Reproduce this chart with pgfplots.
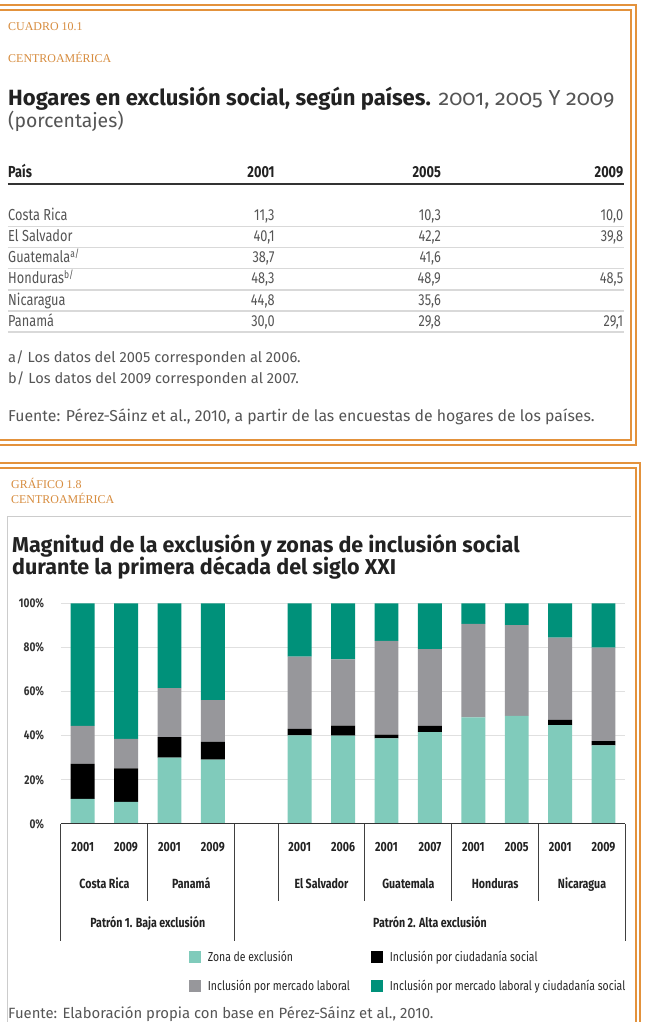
\documentclass[border=0pt]{standalone}
\usepackage{fontspec}
\usepackage{pgfplots}
\usepackage{pgfplotstable}
\pgfplotsset{compat=1.18}
\setmainfont{Fira Sans}
\newfontfamily\cond[FakeStretch=0.8]{Fira Sans}
\newfontfamily\orserif{Liberation Serif}
\newcommand\fs[1]{\fontsize{#1}{#1}\selectfont}

\definecolor{orangeline}{HTML}{E3923C}
\definecolor{orangetext}{HTML}{D78C3E}
\definecolor{excl}{HTML}{80CBBB}
\definecolor{ciud}{HTML}{000000}
\definecolor{merc}{HTML}{97979B}
\definecolor{both}{HTML}{00917A}
\definecolor{txtgray}{HTML}{555555}
\definecolor{ttl}{HTML}{222222}

% Shares of households by zone (percent), one row per country-year bar
\pgfplotstableread{
x  excl ciud merc both
0  11.3 15.9 17.2 55.6
1  10.0 15.1 13.4 61.5
2  30.0  9.3 22.2 38.5
3  29.1  8.1 18.9 43.9
5  40.1  3.0 32.7 24.2
6  40.0  4.5 30.1 25.4
7  38.7  1.8 42.4 17.1
8  41.6  2.8 34.8 20.8
9  48.3  0.0 42.4  9.3
10 48.9  0.0 41.2  9.9
11 44.8  2.3 37.3 15.6
12 35.6  1.9 42.4 20.1
}\bardata

% one body row of the country table: index, name, 2001, 2005, 2009
\newcommand\tabrow[5]{%
  \node[anchor=base west] at (8,{221.5+21.2*#1}) {#2};
  \node[anchor=base east] at (276,{221.5+21.2*#1}) {#3};
  \node[anchor=base east] at (443,{221.5+21.2*#1}) {#4};
  \node[anchor=base east] at (626,{221.5+21.2*#1}) {#5};
}

\begin{document}
\begin{tikzpicture}
% ---------- page, frames and the table block ----------
\begin{scope}[x=0.75pt,y=-0.75pt]
\path[use as bounding box, fill=white] (0,0) rectangle (654,1022);
% double frame of the table block
\draw[orangeline, line width=1.5pt] (-5,5.5) rectangle (639,447);
\draw[orangeline, line width=1.5pt] (-5,10.5) rectangle (634,442);
% double frame of the chart block
\draw[orangeline, line width=1.5pt] (-5,464.5) rectangle (643,1040);
\draw[orangeline, line width=1.5pt] (-5,469.5) rectangle (638.5,1040);

\node[anchor=base west, inner sep=0, font=\orserif\fs{9}, text=orangetext] at (8,31) {CUADRO 10.1};
\node[anchor=base west, inner sep=0, font=\orserif\fs{9}, text=orangetext] at (8,63) {CENTROAMÉRICA};

\node[anchor=base west, inner sep=0, text=ttl] at (8,106)
  {\fs{16.6}\textbf{Hogares en exclusión social, según países.} {\fs{16.3}\color{txtgray}\addfontfeatures{Numbers=OldStyle}2001, 2005 Y 2009}};
\node[anchor=base west, inner sep=0, font=\fs{14.6}, text=txtgray] at (8,128) {(porcentajes)};

% header row
\begin{scope}[every node/.style={inner sep=0, font=\cond\bfseries\fs{12}, text=ttl}]
\node[anchor=base west] at (8,178) {País};
\node[anchor=base east] at (276,178) {2001};
\node[anchor=base east] at (443,178) {2005};
\node[anchor=base east] at (626,178) {2009};
\end{scope}
\draw[black!80, line width=1.2pt] (8,185) -- (627,185);

% body rows
\foreach \i in {0,...,5} {
  \draw[black!15, line width=1pt] (8,{227.5+21.2*\i}) -- (627,{227.5+21.2*\i});
}
\begin{scope}[every node/.style={inner sep=0, font=\cond\fs{12}, text=txtgray}]
\tabrow{0}{Costa Rica}{11,3}{10,3}{10,0}
\tabrow{1}{El Salvador}{40,1}{42,2}{39,8}
\tabrow{2}{Guatemala\textsuperscript{a/}}{38,7}{41,6}{}
\tabrow{3}{Honduras\textsuperscript{b/}}{48,3}{48,9}{48,5}
\tabrow{4}{Nicaragua}{44,8}{35,6}{}
\tabrow{5}{Panamá}{30,0}{29,8}{29,1}
\end{scope}

\begin{scope}[every node/.style={anchor=base west, inner sep=0, font=\fs{11}, text=txtgray}]
\node at (8,364) {a/ Los datos del 2005 corresponden al 2006.};
\node at (8,385) {b/ Los datos del 2009 corresponden al 2007.};
\node[font=\fs{11.9}] at (8,423) {Fuente: Pérez-Sáinz et al., 2010, a partir de las encuestas de hogares de los países.};
\end{scope}

% ---------- chart block headings ----------
\node[anchor=base west, inner sep=0, font=\orserif\fs{9}, text=orangetext] at (11,490) {GRÁFICO 1.8};
\node[anchor=base west, inner sep=0, font=\orserif\fs{9}, text=orangetext] at (11,506) {CENTROAMÉRICA};
\draw[black!20, line width=0.75pt] (8,1040) -- (8,519) -- (634,519);
\node[anchor=base west, inner sep=0, font=\bfseries\fs{16.2}, text=ttl] at (12,555) {Magnitud de la exclusión y zonas de inclusión social};
\node[anchor=base west, inner sep=0, font=\bfseries\fs{16.2}, text=ttl] at (12,577) {durante la primera década del siglo XXI};
\end{scope}

% ---------- stacked bars ----------
\begin{axis}[
  at={(45.9pt,-620.4pt)}, anchor=south west,
  scale only axis, width=424.95pt, height=166.1pt,
  xmin=-0.5, xmax=12.5, ymin=0, ymax=100,
  ybar stacked, bar width=18pt,
  axis line style={draw=none}, major tick length=0pt,
  ymajorgrids, grid style={draw=black!12, line width=0.9pt},
  ytick={0,20,40,60,80,100},
  yticklabel={\pgfmathprintnumber{\tick}\%},
  yticklabel style={font=\cond\bfseries\fs{9.5}, text=black!80, inner sep=0pt, anchor=east, xshift=-12.5pt},
  xtick={0,1,2,3,5,6,7,8,9,10,11,12},
  xticklabels={2001,2009,2001,2009,2001,2006,2001,2007,2001,2005,2001,2009},
  xticklabel style={font=\cond\bfseries\fs{10}, text=ttl, inner sep=0pt, anchor=base, yshift=-20.6pt},
  /pgf/number format/assume math mode=true,
  legend columns=2,
  legend cell align=left,
  legend image code/.code={\fill[#1] (0pt,-4.5pt) rectangle (9pt,4.5pt); \path (12pt,0pt);},
  legend style={draw=none, fill=none, at={(0.227,-0.562)}, anchor=north west,
    font=\cond\fs{9.8}, text=black!85, inner sep=0pt,
    /tikz/every even column/.append style={column sep=14pt},
    /tikz/row sep=8.5pt},
]
\addplot[fill=excl, draw=none] table[x=x, y=excl] {\bardata};
\addplot[fill=ciud, draw=none] table[x=x, y=ciud] {\bardata};
\addplot[fill=merc, draw=none] table[x=x, y=merc] {\bardata};
\addplot[fill=both, draw=none] table[x=x, y=both] {\bardata};
\legend{Zona de exclusión, Inclusión por ciudadanía social,
        Inclusión por mercado laboral, Inclusión por mercado laboral y ciudadanía social}
\end{axis}

% ---------- category grid under the bars ----------
\begin{scope}[x=0.75pt,y=-0.75pt]
\draw[black!80, line width=0.8pt] (61.2,827.2) -- (627.8,827.2);
\foreach \xx in {148.4,279.2,366.4,453.6,540.8}
  \draw[black!75, line width=0.7pt] (\xx,827.2) -- (\xx,905);
\foreach \xx in {61.2,235.6,627.8}
  \draw[black!75, line width=0.7pt] (\xx,827.2) -- (\xx,945);
\begin{scope}[every node/.style={anchor=base, inner sep=0, font=\cond\bfseries\fs{10}, text=ttl}]
\node at (104.8,892) {Costa Rica};
\node at (192,892) {Panamá};
\node at (322.8,892) {El Salvador};
\node at (410,892) {Guatemala};
\node at (497.2,892) {Honduras};
\node at (584.4,892) {Nicaragua};
\node at (148.4,931) {Patrón 1. Baja exclusión};
\node at (431.7,931) {Patrón 2. Alta exclusión};
\end{scope}
\node[anchor=base west, inner sep=0, font=\fs{11.2}, text=txtgray] at (8,1023) {Fuente: Elaboración propia con base en Pérez-Sáinz et al., 2010.};
\end{scope}
\end{tikzpicture}
\end{document}
